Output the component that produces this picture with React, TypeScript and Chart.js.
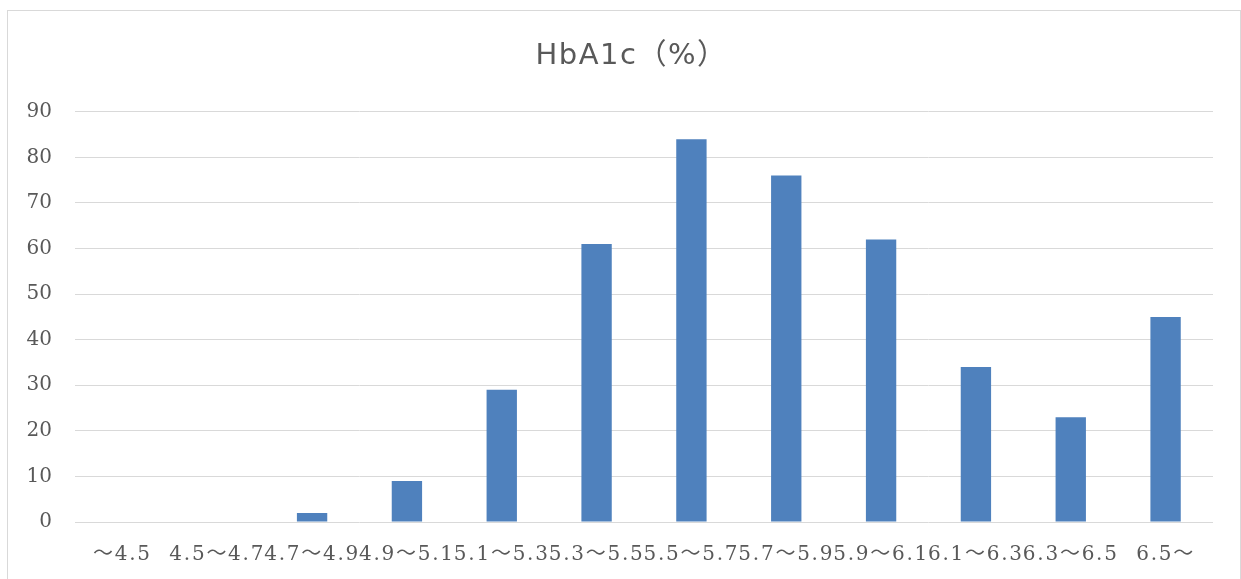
import React, { useEffect, useRef } from "react";
import { Chart, registerables } from "chart.js";

Chart.register(...registerables);

const categories: string[] = [
  "～4.5",
  "4.5～4.7",
  "4.7～4.9",
  "4.9～5.1",
  "5.1～5.3",
  "5.3～5.5",
  "5.5～5.7",
  "5.7～5.9",
  "5.9～6.1",
  "6.1～6.3",
  "6.3～6.5",
  "6.5～",
];
const counts: number[] = [0, 0, 2, 9, 29, 61, 84, 76, 62, 34, 23, 45];
const titleText = "HbA1c（%）";
const yMin = 0;
const yMax = 90;
const yStep = 10;

const serif = "'DejaVu Serif', 'Noto Sans CJK JP', serif";
const sans = "'DejaVu Sans', 'Noto Sans CJK JP', sans-serif";

function patchDraw(obj: any, method: string, spacing: string, dx: number) {
  if (!obj || obj["__patched_" + method]) return;
  const orig = obj[method].bind(obj);
  obj[method] = (...args: any[]) => {
    const ctx = obj.ctx;
    ctx.save();
    (ctx as any).letterSpacing = spacing;
    ctx.translate(dx, 0);
    orig(...args);
    ctx.restore();
  };
  obj["__patched_" + method] = true;
}

const spacingPlugin = {
  id: "spacingPlugin",
  beforeDraw(chart: any) {
    patchDraw(chart.titleBlock, "draw", "1.5px", 25);
    patchDraw(chart.scales.x, "drawLabels", "1.75px", 0);
  },
};

export default function App() {
  const ref = useRef<HTMLCanvasElement | null>(null);

  useEffect(() => {
    if (!ref.current) return;
    const chart = new Chart(ref.current, {
      type: "bar",
      data: {
        labels: categories,
        datasets: [
          {
            label: titleText,
            data: counts,
            backgroundColor: "#4f81bd",
            borderWidth: 0,
            barPercentage: 0.32,
            categoryPercentage: 1,
          },
        ],
      },
      options: {
        animation: false,
        responsive: false,
        maintainAspectRatio: false,
        devicePixelRatio: 1,
        layout: { padding: { top: 10, left: 0, right: 28, bottom: 12 } },
        plugins: {
          legend: { display: false },
          tooltip: { enabled: false },
          title: {
            display: true,
            text: titleText,
            color: "#595959",
            font: { family: sans, size: 29, weight: "normal" },
            padding: { top: 29, bottom: 38 },
          },
        },
        scales: {
          x: {
            offset: true,
            grid: { display: false, drawTicks: false },
            border: { display: false },
            ticks: {
              color: "#595959",
              font: { family: serif, size: 20 },
              padding: 21,
              maxRotation: 0,
              minRotation: 0,
              autoSkip: false,
            },
            afterFit: (scale: any) => {
              scale.height = 45;
            },
          },
          y: {
            min: yMin,
            max: yMax,
            grid: { color: "#d9d9d9", lineWidth: 1, drawTicks: false },
            border: { display: false },
            ticks: {
              stepSize: yStep,
              color: "#595959",
              font: { family: serif, size: 20 },
              padding: 23,
            },
            afterFit: (scale: any) => {
              scale.width = 75;
            },
          },
        },
      },
      plugins: [spacingPlugin],
    });
    return () => chart.destroy();
  }, []);

  return (
    <div style={{ position: "fixed", left: 0, top: 0, width: 1241, height: 579, background: "#fff" }}>
      <div
        style={{
          position: "absolute",
          left: 7,
          top: 10,
          width: 1234,
          height: 600,
          border: "1px solid #d9d9d9",
          boxSizing: "border-box",
        }}
      />
      <canvas
        ref={ref}
        width={1241}
        height={579}
        style={{ position: "absolute", left: 0, top: 0, width: 1241, height: 579 }}
      />
    </div>
  );
}
